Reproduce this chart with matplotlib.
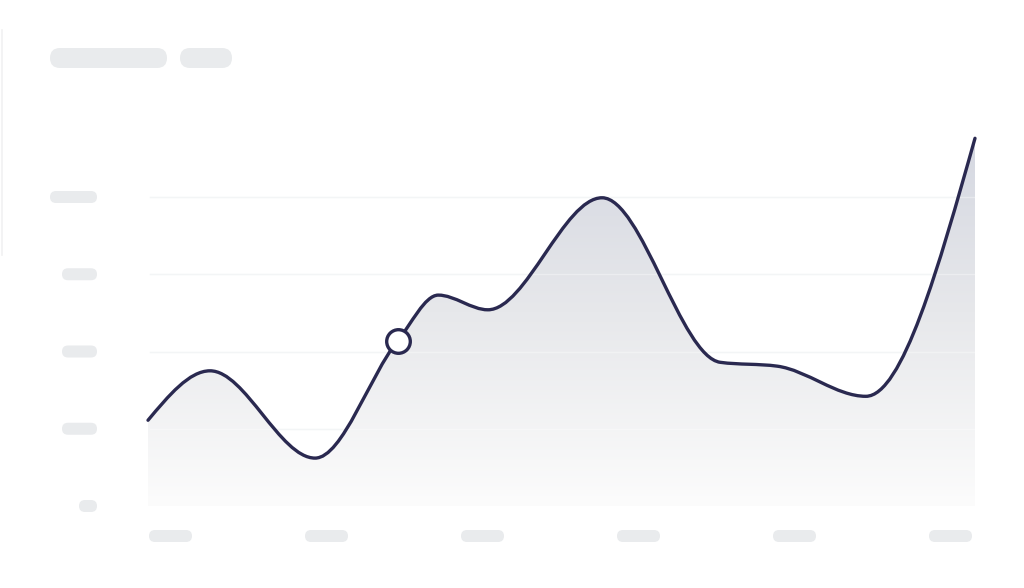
import numpy as np
import matplotlib
matplotlib.use("Agg")
import matplotlib.pyplot as plt
from matplotlib.path import Path
from matplotlib.patches import PathPatch, FancyBboxPatch
from matplotlib.colors import LinearSegmentedColormap

# series (x in arbitrary units along the axis, y in grid units)
xs = [0.0, 7.5, 20.2, 30.2, 35.1, 41.1, 54.9, 69.2, 76.1, 86.8, 100.0]
ys = [1.11, 1.75, 0.62, 2.14, 2.73, 2.54, 3.99, 1.86, 1.81, 1.42, 4.76]
marker_idx = 3
grid_vals = [0, 1, 2, 3, 4]

# placeholder "skeleton" label widths (px)
ytick_pill_w = [18, 35, 35, 35, 47]
xtick_pill_x = [149, 305, 461, 617, 773, 929]

LINE = "#2a2950"
PILL = "#e9ebed"
GRID = "#eef0f2"


def monotone_path(x, y):
    # d3-style monotoneX curve as cubic bezier segments
    x = np.asarray(x, float)
    y = np.asarray(y, float)
    n = len(x)
    h = np.diff(x)
    s = np.diff(y) / h
    t = np.zeros(n)
    for i in range(1, n - 1):
        p = (s[i - 1] * h[i] + s[i] * h[i - 1]) / (h[i - 1] + h[i])
        t[i] = (np.sign(s[i - 1]) + np.sign(s[i])) * min(abs(s[i - 1]), abs(s[i]), 0.5 * abs(p))
    t[0] = (3 * s[0] - t[1]) / 2
    t[-1] = (3 * s[-1] - t[-2]) / 2
    verts = [(x[0], y[0])]
    codes = [Path.MOVETO]
    for i in range(n - 1):
        d = h[i] / 3
        verts += [(x[i] + d, y[i] + d * t[i]), (x[i + 1] - d, y[i + 1] - d * t[i + 1]), (x[i + 1], y[i + 1])]
        codes += [Path.CURVE4] * 3
    return verts, codes


fig = plt.figure(figsize=(10.24, 5.88), dpi=100)
W, H = 1024, 588

# main plot axes: 148..975 px horizontally, baseline at 506 px, 77.25 px per unit
y_top_px = 506 - 5 * 77.25
ax = fig.add_axes([148 / W, 1 - 506 / H, (975 - 148) / W, (506 - y_top_px) / H])
ax.set_xlim(0, 100)
ax.set_ylim(0, 5)
ax.axis("off")

for g in grid_vals:
    ax.plot([0.2, 100], [g, g], color=GRID, lw=1.0, zorder=1)
    ax.plot([0.2, 100], [g, g], color="white", lw=1.0, alpha=0.35, zorder=3)

verts, codes = monotone_path(xs, ys)

# gradient fill under the curve
fill_verts = verts + [(xs[-1], 0), (xs[0], 0), (xs[0], ys[0])]
fill_codes = codes + [Path.LINETO, Path.LINETO, Path.CLOSEPOLY]
fill_patch = PathPatch(Path(fill_verts, fill_codes), facecolor="none", edgecolor="none")
ax.add_patch(fill_patch)
cmap = LinearSegmentedColormap.from_list("fade", ["#fcfcfc", "#e7e8eb", "#d3d6e0"])
grad = np.linspace(0, 1, 256).reshape(-1, 1)
im = ax.imshow(grad, extent=[0, 100, 0, 5], origin="lower", aspect="auto",
               cmap=cmap, zorder=2, interpolation="bicubic")
im.set_clip_path(fill_patch)

ax.add_patch(PathPatch(Path(verts, codes), facecolor="none", edgecolor=LINE,
                       lw=2.4, capstyle="round", zorder=4, clip_on=False))
ax.plot([xs[marker_idx]], [ys[marker_idx]], "o", ms=17, mfc="white", mec=LINE,
        mew=2.4, zorder=5, clip_on=False)

# skeleton placeholders in pixel coordinates
ov = fig.add_axes([0, 0, 1, 1], zorder=-1)
ov.set_xlim(0, W)
ov.set_ylim(H, 0)
ov.axis("off")


def pill(x0, y0, w, h):
    ov.add_patch(FancyBboxPatch((x0, y0), w, h,
                                boxstyle=f"round,pad=0,rounding_size={h / 2}",
                                facecolor=PILL, edgecolor="none"))


pill(50, 48, 117, 20)
pill(180, 48, 52, 20)
for g, w in zip(grid_vals, ytick_pill_w):
    yc = 506 - g * 77.25
    pill(97 - w, yc - 6, w, 12)
for x0 in xtick_pill_x:
    pill(x0, 530, 43, 12)

ov.plot([1.5, 1.5], [30, 255], color="#f1f1f2", lw=1.2)

fig.savefig("out.png", dpi=100, facecolor="white")
